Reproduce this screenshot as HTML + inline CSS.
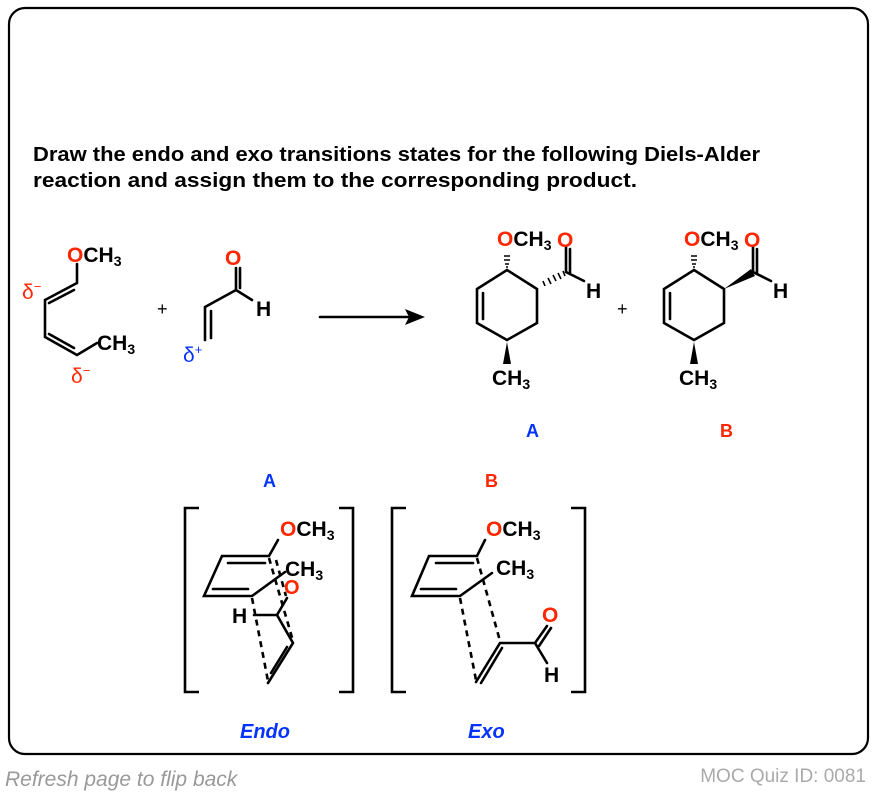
<!DOCTYPE html>
<html><head><meta charset="utf-8"><style>
html,body{margin:0;padding:0;background:#fff;}
svg{display:block;}
text{font-family:"Liberation Sans",Arial,sans-serif;font-weight:bold;}
text.n{font-weight:normal;}
</style></head><body>
<svg width="876" height="796" viewBox="0 0 876 796" xmlns="http://www.w3.org/2000/svg">
<rect x="9" y="8" width="859" height="746" rx="16" fill="#fff" stroke="#000" stroke-width="2.2"/>
<text x="33" y="161" font-size="20" textLength="727" lengthAdjust="spacingAndGlyphs">Draw the endo and exo transitions states for the following Diels-Alder</text>
<text x="33" y="187" font-size="20" textLength="604" lengthAdjust="spacingAndGlyphs">reaction and assign them to the corresponding product.</text>

<g stroke="#000" stroke-width="2.6" fill="none" stroke-linecap="round">
<path d="M77 264 L77 283 L45 300 L45 337 L77 355 L97 343"/>
<path d="M74 290 L49 303"/>
<path d="M49 334 L74 348"/>
<path d="M236 268 L236 290 L252 300 M236 290 L205 307 L205 340"/>
<path d="M211 311 L211 338"/>
<path d="M240 268 L240 288"/>
<path d="M320 317 L410 317"/>
</g>
<polygon points="425,317 405,309 409,317 405,325" fill="#000"/>
<text x="67" y="262" font-size="21"><tspan fill="#ff2600">O</tspan>CH<tspan font-size="14" dy="4">3</tspan></text>
<text x="97" y="350" font-size="21">CH<tspan font-size="14" dy="4">3</tspan></text>
<text class="n" x="22" y="299" font-size="21" fill="#ff2600">δ<tspan font-size="13" dy="-8">−</tspan></text>
<text class="n" x="71" y="383" font-size="21" fill="#ff2600">δ<tspan font-size="13" dy="-8">−</tspan></text>
<text class="n" x="183" y="362" font-size="21" fill="#0433ff">δ<tspan font-size="13" dy="-8">+</tspan></text>
<text x="157" y="315" font-size="18" class="n">+</text>
<text x="225" y="265" font-size="21" fill="#ff2600">O</text>
<text x="256" y="316" font-size="21">H</text>

<!-- product A -->
<g stroke="#000" stroke-width="2.6" fill="none" stroke-linecap="round">
<path d="M507 270 L537 289 L537 323 L507 340 L477 323 L477 289 Z"/>
<path d="M483 293 L483 319"/>
<path d="M566 272 L566 247 M566 272 L584 281"/>
<path d="M570 274 L570 249"/>
</g>
<text x="497" y="246" font-size="21"><tspan fill="#ff2600">O</tspan>CH<tspan font-size="14" dy="4">3</tspan></text>
<text x="557" y="247" font-size="21" fill="#ff2600">O</text>
<text x="586" y="298" font-size="21">H</text>
<polygon points="507,342 503,364 511,364" fill="#000"/>
<text x="492" y="385" font-size="21">CH<tspan font-size="14" dy="4">3</tspan></text>
<g stroke="#000" stroke-width="1.6">
<path d="M504 256 L510 256 M504 260 L510 260 M505 264 L509 264 M506 267 L508 267"/>
<path d="M563 271 L565 276 M558 273 L561 279 M553 275 L556 281 M548 278 L551 284 M543 281 L545 286"/>
</g>
<!-- product B -->
<g stroke="#000" stroke-width="2.6" fill="none" stroke-linecap="round">
<path d="M694 270 L724 289 L724 323 L694 340 L664 323 L664 289 Z"/>
<path d="M670 293 L670 319"/>
<path d="M753 272 L753 247 M753 272 L771 281"/>
<path d="M757 274 L757 249"/>
</g>
<polygon points="724,289 751,269 755,276" fill="#000"/>
<g stroke="#000" stroke-width="1.6">
<path d="M691 256 L697 256 M691 260 L697 260 M692 264 L696 264 M693 267 L695 267"/>
</g>
<text x="684" y="246" font-size="21"><tspan fill="#ff2600">O</tspan>CH<tspan font-size="14" dy="4">3</tspan></text>
<text x="744" y="247" font-size="21" fill="#ff2600">O</text>
<text x="773" y="298" font-size="21">H</text>
<polygon points="694,342 690,364 698,364" fill="#000"/>
<text x="679" y="385" font-size="21">CH<tspan font-size="14" dy="4">3</tspan></text>
<text x="617" y="315" font-size="18" class="n">+</text>

<text x="526" y="437" font-size="18" fill="#0433ff">A</text>
<text x="720" y="437" font-size="18" fill="#ff2600">B</text>
<text x="263" y="487" font-size="18" fill="#0433ff">A</text>
<text x="485" y="487" font-size="18" fill="#ff2600">B</text>

<g stroke="#000" stroke-width="2.6" fill="none">
<path d="M199 508 L185 508 L185 692 L199 692"/>
<path d="M339 508 L353 508 L353 692 L339 692"/>
<path d="M406 508 L392 508 L392 692 L406 692"/>
<path d="M571 508 L585 508 L585 692 L571 692"/>
</g>

<!-- endo TS -->
<g stroke="#000" stroke-width="2.6" fill="none" stroke-linecap="round">
<path d="M278 540 L269 556 L222 556 L204 596 L252 596 L285 572"/>
<path d="M228 563 L265 563"/>
<path d="M213 589 L248 589"/>
<path d="M254 615 L277 615 L287 598 M277 615 L293 643 L268 683"/>
<path d="M287 647 L271 673"/>
</g>
<g stroke="#000" stroke-width="2.6" fill="none" stroke-dasharray="6,5">
<path d="M252 598 L268 681"/>
<path d="M269 558 L293 641"/>
<path d="M276 560 L286 596"/>
</g>
<text x="280" y="536" font-size="21"><tspan fill="#ff2600">O</tspan>CH<tspan font-size="14" dy="4">3</tspan></text>
<text x="285" y="576" font-size="21">CH<tspan font-size="14" dy="4">3</tspan></text>
<text x="284" y="594" font-size="20" fill="#ff2600">O</text>
<text x="232" y="623" font-size="21">H</text>

<!-- exo TS -->
<g stroke="#000" stroke-width="2.6" fill="none" stroke-linecap="round">
<path d="M485 540 L477 556 L429 556 L412 596 L460 596 L492 573"/>
<path d="M436 563 L473 563"/>
<path d="M421 589 L456 589"/>
<path d="M476 682 L500 643 L535 643 L547 626 M535 643 L547 663"/>
<path d="M481 683 L502 648"/>
<path d="M539 646 L551 628"/>
</g>
<g stroke="#000" stroke-width="2.6" fill="none" stroke-dasharray="6,5">
<path d="M460 598 L476 680"/>
<path d="M477 558 L500 641"/>
</g>
<text x="486" y="536" font-size="21"><tspan fill="#ff2600">O</tspan>CH<tspan font-size="14" dy="4">3</tspan></text>
<text x="496" y="575" font-size="21">CH<tspan font-size="14" dy="4">3</tspan></text>
<text x="542" y="622" font-size="21" fill="#ff2600">O</text>
<text x="544" y="682" font-size="21">H</text>

<text x="240" y="738" font-size="20" fill="#0433ff" font-style="italic">Endo</text>
<text x="468" y="738" font-size="20" fill="#0433ff" font-style="italic">Exo</text>

<text class="n" x="5" y="786" font-size="21" fill="#999" font-style="italic">Refresh page to flip back</text>
<text class="n" x="866" y="782" font-size="19" fill="#aaa" text-anchor="end">MOC Quiz ID: 0081</text>
</svg>
</body></html>
